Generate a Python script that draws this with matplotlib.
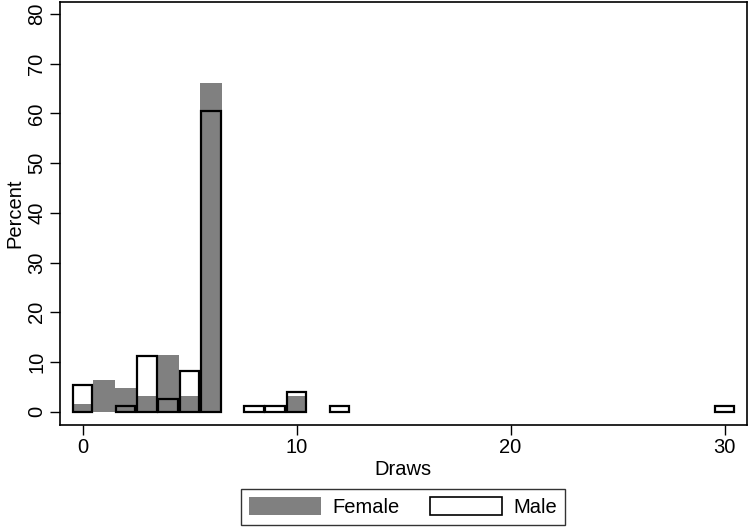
import numpy as np
import matplotlib.pyplot as plt
from matplotlib.patches import Patch

plt.rcParams['font.family'] = ['Liberation Sans', 'DejaVu Sans']

# Процент по числу ничьих
female_draws = [0, 1, 2, 3, 4, 5, 6, 10]
female_pct = [1.6, 6.45, 4.84, 3.2, 11.3, 3.2, 66.2, 3.2]

male_draws = [0, 2, 3, 4, 5, 6, 8, 9, 10, 12, 30]
male_pct = [5.4, 1.15, 11.1, 2.55, 8.25, 60.5, 1.15, 1.15, 4.0, 1.15, 1.15]

FS = 14.5

fig = plt.figure(figsize=(7.49, 5.3), dpi=100)
ax = fig.add_axes([0.080, 0.199, 0.917, 0.797])

# Женщины - серые столбцы без контура
ax.bar(female_draws, female_pct, width=1.0, color='#808080', linewidth=0)
# Мужчины - только контур
ax.bar(male_draws, male_pct, width=0.92, facecolor='none',
       edgecolor='black', linewidth=1.6)

ax.set_xlim(-1.06, 31.04)
ax.set_ylim(-2.6, 82.4)
ax.set_xticks([0, 10, 20, 30])
ax.set_yticks(range(0, 81, 10))
ax.tick_params(labelsize=FS, length=7, width=1, direction='out', pad=3)
for lab in ax.get_yticklabels():
    lab.set_rotation(90)
    lab.set_va('center')
for s in ax.spines.values():
    s.set_linewidth(1.2)

ax.set_xlabel('Draws', fontsize=FS, labelpad=2)
ax.set_ylabel('Percent', fontsize=FS, labelpad=2)

handles = [Patch(facecolor='#808080', edgecolor='#808080', linewidth=0),
           Patch(facecolor='white', edgecolor='black', linewidth=1.2)]
leg = fig.legend(handles, ['Female', 'Male'], loc='center',
                 bbox_to_anchor=(0.538, 0.043), ncol=2, fontsize=FS,
                 handlelength=3.6, handleheight=0.95, columnspacing=1.5,
                 handletextpad=0.55, fancybox=False, borderpad=0.4,
                 borderaxespad=0)
leg.get_frame().set_edgecolor('black')
leg.get_frame().set_linewidth(1.0)

fig.savefig('out.png', dpi=100)
